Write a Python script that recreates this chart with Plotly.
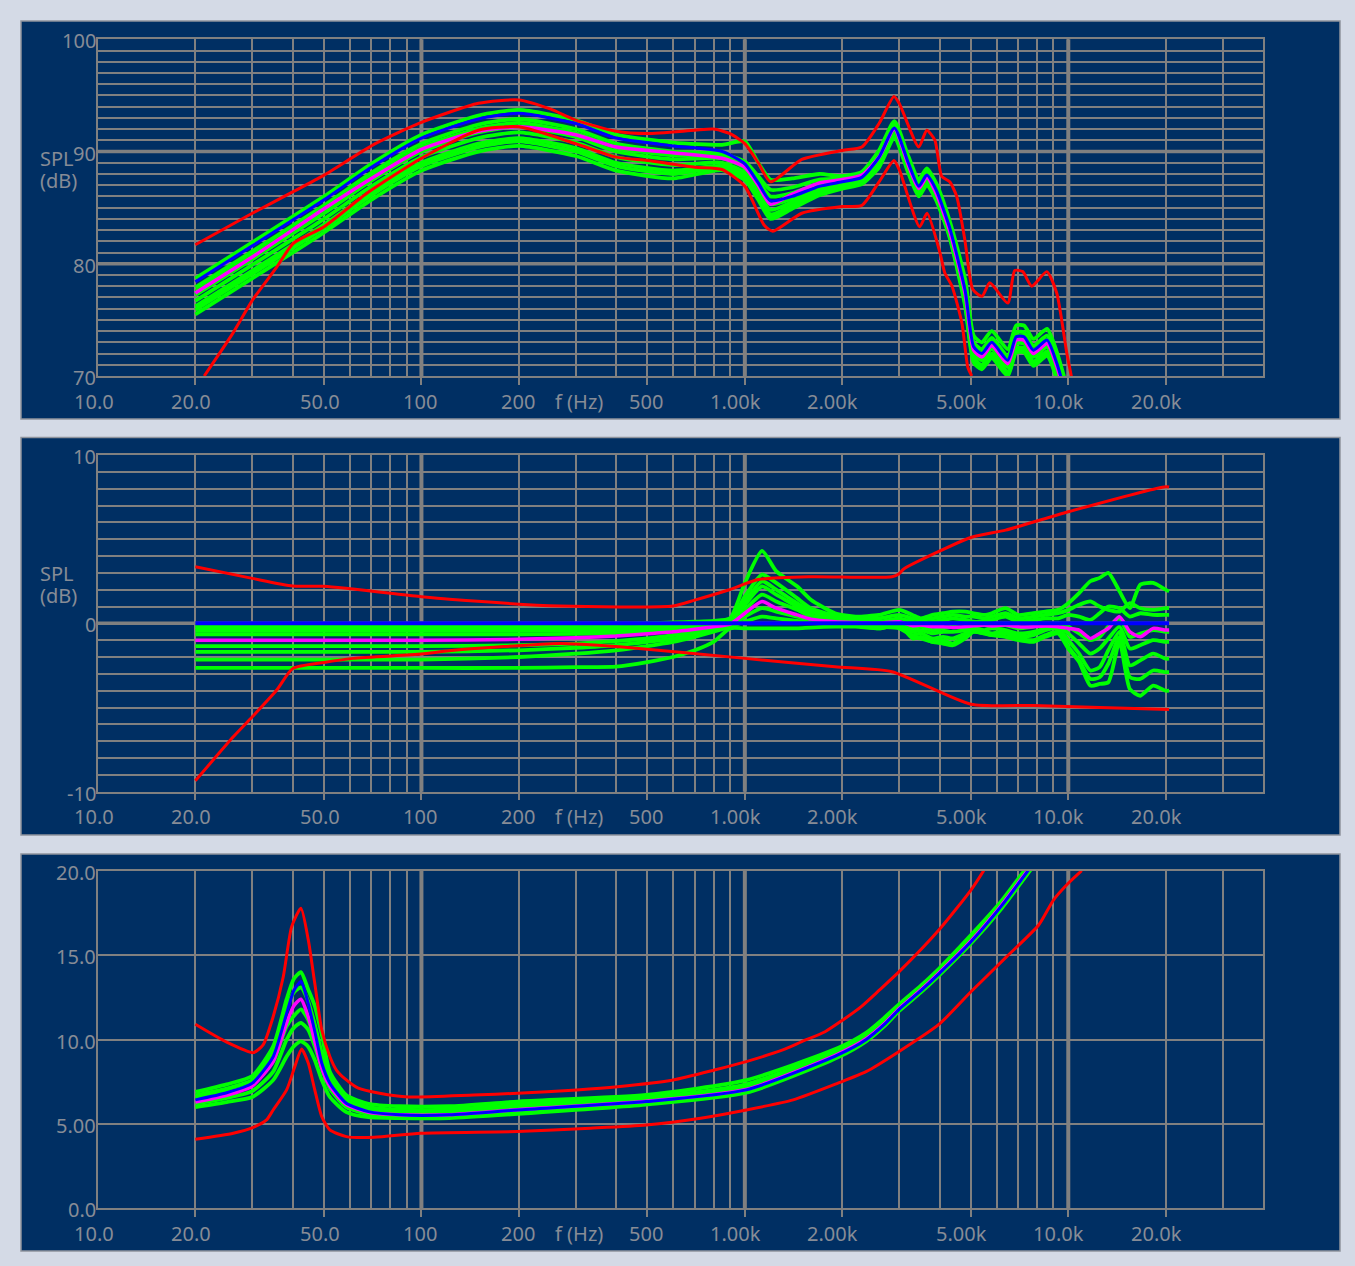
import math
import plotly.graph_objects as go

# ---------------- SPL response (dB) ----------------
F_SPL = [20, 30, 50, 70, 100, 150, 200, 300, 400, 600, 850, 1000, 1100, 1200, 1400, 1700,
         2000, 2300, 2600, 2900, 3200, 3450, 3650, 3900, 4300, 4800, 5100, 5400, 5800, 6500,
         6900, 7300, 7800, 8600, 9200, 9800]
SPL_REF = [78.4, 81.6, 85.7, 88.6, 91.2, 92.9, 93.4, 92.5, 91.2, 90.5, 90.0, 88.9, 87.2, 85.6, 86.0, 86.9,
           87.3, 87.7, 89.5, 92.1, 89.0, 86.9, 87.9, 86.6, 83.2, 77.6, 72.6, 72.0, 73.0, 71.4,
           73.5, 73.5, 72.3, 73.2, 71.2, 68.5]
SPL_MEAN = [77.4, 80.6, 84.9, 87.6, 90.2, 91.8, 92.2, 91.5, 90.4, 89.9, 89.4, 88.6, 87.0, 85.3, 86.2, 87.2,
            87.5, 87.9, 89.5, 92.0, 88.8, 86.7, 87.7, 86.3, 82.9, 77.3, 72.3, 71.7, 72.7, 71.1,
            73.2, 73.2, 72.0, 72.9, 70.9, 68.2]
SPL_S1 = [78.7, 81.9, 86.0, 88.9, 91.5, 93.2, 93.7, 92.8, 91.5, 90.8, 90.6, 90.9, 89.0, 87.5, 87.6, 88.0,
          87.8, 88.2, 90.1, 92.7, 89.6, 87.5, 88.5, 87.2, 83.8, 78.6, 73.6, 73.0, 74.0, 72.4,
          74.5, 74.5, 73.3, 74.2, 72.2, 69.5]
SPL_S2 = [77.9, 81.1, 85.2, 88.1, 90.7, 92.4, 92.9, 92.0, 90.7, 90.0, 89.8, 89.1, 87.8, 86.6, 86.8, 87.5,
          87.6, 88.0, 89.8, 92.4, 89.3, 87.2, 88.2, 86.9, 83.5, 78.0, 73.0, 72.4, 73.4, 71.8,
          73.9, 73.9, 72.7, 73.6, 71.6, 68.9]
SPL_S3 = [77.2, 80.4, 84.5, 87.4, 90.0, 91.7, 92.2, 91.3, 90.0, 89.3, 89.4, 88.5, 86.9, 85.3, 85.8, 86.8,
          87.2, 87.6, 89.3, 91.9, 88.8, 86.7, 87.7, 86.4, 83.0, 77.3, 72.3, 71.7, 72.7, 71.1,
          73.2, 73.2, 72.0, 72.9, 70.9, 68.2]
SPL_S4 = [76.2, 79.4, 83.5, 86.4, 89.0, 90.7, 91.2, 90.3, 89.0, 88.3, 88.7, 87.8, 86.2, 84.4, 85.2, 86.4,
          86.9, 87.3, 88.9, 91.5, 88.4, 86.3, 87.3, 86.0, 82.6, 76.6, 71.6, 71.0, 72.0, 70.4,
          72.5, 72.5, 71.3, 72.2, 70.2, 67.5]
SPL_S5 = [75.5, 78.7, 82.8, 85.7, 88.3, 90.0, 90.5, 89.6, 88.3, 87.6, 88.35, 87.45, 85.7, 84.0, 84.9, 86.1,
          86.7, 87.1, 88.6, 91.2, 88.1, 86.0, 87.0, 85.7, 82.3, 76.2, 71.2, 70.6, 71.6, 70.0,
          72.1, 72.1, 70.9, 71.8, 69.8, 67.1]
SPL_S6 = [76.7, 79.9, 84.0, 86.9, 89.5, 91.2, 91.7, 90.8, 89.5, 88.8, 89.0, 88.1, 86.5, 84.8, 85.5, 86.6,
          87.1, 87.5, 89.1, 91.7, 88.6, 86.5, 87.5, 86.2, 82.8, 77.0, 72.0, 71.4, 72.4, 70.8,
          72.9, 72.9, 71.7, 72.6, 70.6, 67.9]
SPL_S7 = [75.9, 79.1, 83.2, 86.1, 88.7, 90.4, 90.9, 90.0, 88.7, 88.0, 88.55, 87.6, 85.9, 84.2, 85.0, 86.2,
          86.8, 87.2, 88.75, 91.35, 88.25, 86.15, 87.15, 85.85, 82.45, 76.4, 71.4, 70.8, 71.8, 70.2,
          72.3, 72.3, 71.1, 72.0, 70.0, 67.3]
SPL_S8 = [77.55, 80.75, 84.85, 87.75, 90.35, 92.05, 92.55, 91.65, 90.35, 89.65, 89.6, 88.8, 87.4, 86.0, 86.3, 87.15,
          87.4, 87.8, 89.55, 92.15, 89.05, 86.95, 87.95, 86.65, 83.25, 77.65, 72.65, 72.05, 73.05, 71.45,
          73.55, 73.55, 72.35, 73.25, 71.25, 68.55]
F_SPL_HI = [20, 30, 40, 50, 72, 100, 150, 200, 250, 300, 400, 500, 700, 800, 900, 1000, 1100, 1200,
            1500, 2000, 2300, 2600, 2890, 3000, 3450, 3650, 3870, 4060, 4300, 4520, 4790, 5070,
            5410, 5720, 6500, 6830, 7230, 7710, 8580, 9210, 9900, 10250]
SPL_HI = [81.7, 84.5, 86.4, 87.9, 90.7, 92.6, 94.3, 94.6, 93.8, 92.8, 91.8, 91.6, 91.9, 92.0, 91.6, 90.7, 89.0, 87.3,
          89.3, 90.1, 90.4, 92.5, 94.9, 94.3, 90.4, 91.9, 91.0, 87.8, 87.3, 86.0, 82.1, 77.7,
          77.1, 78.3, 76.5, 79.4, 79.3, 78.0, 79.3, 77.4, 72.0, 69.8]
F_SPL_LO = [21.3, 26.1, 30.1, 35.7, 40.1, 50, 68, 100, 150, 200, 300, 400, 500, 700, 850, 1000, 1150,
            1220, 1500, 2000, 2300, 2600, 2890, 3000, 3470, 3660, 4010, 4150, 4370, 4690, 4890, 5030]
SPL_LO = [70.0, 73.8, 76.8, 79.7, 81.8, 83.3, 86.3, 89.4, 91.9, 92.2, 90.7, 89.5, 89.2, 88.6, 88.4, 86.9, 83.4,
          82.9, 84.5, 85.1, 85.2, 87.3, 89.2, 88.4, 83.3, 84.5, 81.0, 79.2, 78.0, 74.7, 70.8, 70.0]

# ---------------- SPL deviation from reference (dB) ----------------
F_DEV = [20, 100, 200, 300, 400, 500, 600, 700, 800, 900, 1000, 1130, 1250, 1450, 1600, 1900, 2200,
         2600, 3000, 3300, 3500, 3800, 4100, 4400, 4800, 5100, 5500, 5800, 6400, 7000, 7800, 8500,
         9300, 10000, 10800, 11700, 12500, 13300, 14400, 15500, 16700, 18300, 20000, 20500]
F_DEV_REF = [20, 20500]
DEV_REF = [0.0, 0.0]
DEV_MEAN = [-1.0, -1.0, -0.95, -0.85, -0.75, -0.62, -0.5, -0.35, -0.2, -0.05, 0.6, 1.3, 0.9, 0.5, 0.25, 0.1, 0.05,
            0.0, 0.1, -0.15, -0.1, -0.2, -0.2, -0.25, -0.2, -0.15, -0.1, -0.15, -0.1, -0.2, -0.2, -0.15,
            -0.2, -0.3, -0.4, -0.9, -0.6, -0.3, 0.4, -0.5, -0.8, -0.3, -0.4, -0.4]
DEV_S1 = [-0.15, -0.15, -0.15, -0.1, -0.05, 0.0, 0.05, 0.1, 0.15, 0.3, 2.4, 4.3, 3.1, 2.2, 1.4, 0.6, 0.4,
          0.5, 0.8, 0.5, 0.3, 0.5, 0.6, 0.7, 0.7, 0.6, 0.5, 0.6, 0.9, 0.5, 0.6, 0.7,
          0.8, 1.2, 1.8, 2.5, 2.7, 3.0, 1.9, 0.9, 2.3, 2.4, 2.0, 1.9]
DEV_S2 = [-0.3, -0.3, -0.3, -0.28, -0.25, -0.2, -0.15, -0.1, -0.05, 0.1, 1.6, 2.9, 2.4, 1.5, 0.9, 0.45, 0.3,
          0.3, 0.5, 0.3, 0.2, 0.3, 0.4, 0.5, 0.4, 0.4, 0.3, 0.4, 0.6, 0.3, 0.4, 0.5,
          0.6, 0.8, 1.1, 1.3, 1.0, 0.8, 0.7, 1.2, 0.9, 0.8, 0.9, 0.9]
DEV_S3 = [-0.45, -0.45, -0.45, -0.42, -0.4, -0.35, -0.3, -0.2, -0.1, 0.05, 1.3, 2.5, 2.0, 1.2, 0.7, 0.3, 0.2,
          0.1, 0.3, 0.1, 0.0, 0.1, 0.2, 0.3, 0.2, 0.1, 0.1, 0.2, 0.4, 0.1, 0.2, 0.3,
          0.3, 0.5, 0.4, 0.2, 0.6, 1.0, 0.9, 0.4, 0.6, 0.5, 0.5, 0.5]
DEV_S4 = [-0.65, -0.65, -0.65, -0.62, -0.58, -0.5, -0.4, -0.3, -0.15, 0.0, 1.1, 2.2, 1.7, 1.0, 0.5, 0.2, 0.1,
          0.0, -0.1, -0.3, -0.2, -0.4, -0.3, -0.2, -0.3, -0.2, -0.1, -0.2, -0.1, -0.3, -0.2, -0.1,
          0.0, -0.2, -0.6, -1.0, -0.8, -0.2, 0.3, -0.8, -0.6, -0.4, -0.5, -0.5]
DEV_S5 = [-1.35, -1.35, -1.3, -1.2, -1.05, -0.9, -0.7, -0.5, -0.3, -0.1, 0.8, 1.7, 1.3, 0.8, 0.4, 0.15, 0.05,
          -0.1, -0.2, -0.5, -0.4, -0.6, -0.5, -0.5, -0.4, -0.3, -0.4, -0.3, -0.4, -0.6, -0.5, -0.3,
          -0.2, -0.6, -1.2, -1.8, -1.5, -0.9, -0.2, -1.5, -1.3, -1.0, -1.1, -1.1]
DEV_S6 = [-1.7, -1.7, -1.6, -1.45, -1.3, -1.1, -0.9, -0.65, -0.4, -0.15, 0.4, 0.9, 0.7, 0.4, 0.2, 0.05, 0.0,
          -0.2, -0.3, -0.7, -0.6, -0.9, -0.8, -0.9, -0.6, -0.4, -0.5, -0.6, -0.5, -0.8, -0.7, -0.4,
          -0.3, -1.0, -1.8, -2.8, -2.6, -1.6, -0.5, -2.5, -2.2, -1.8, -2.1, -2.1]
DEV_S7 = [-2.15, -2.15, -2.0, -1.8, -1.6, -1.35, -1.1, -0.8, -0.5, -0.2, 0.1, 0.4, 0.3, 0.15, 0.05, -0.05, -0.1,
          -0.3, -0.1, -0.9, -0.8, -1.1, -1.0, -1.2, -0.7, -0.5, -0.6, -0.7, -0.6, -0.9, -1.0, -0.7,
          -0.5, -1.4, -2.2, -3.3, -3.2, -2.4, -0.8, -3.2, -3.3, -2.8, -2.9, -2.9]
DEV_S8 = [-2.65, -2.65, -2.65, -2.6, -2.57, -2.3, -2.0, -1.6, -1.1, -0.3, -0.3, -0.3, -0.3, -0.3, -0.25, -0.2, -0.2,
          -0.3, -0.1, -0.8, -0.9, -1.1, -1.2, -1.3, -0.9, -0.5, -0.6, -0.7, -0.8, -1.0, -1.1, -0.8,
          -0.6, -1.5, -2.3, -3.7, -3.6, -3.5, -1.1, -3.9, -4.3, -3.7, -4.0, -4.0]
F_DEV_HI = [20, 30, 40, 50, 100, 122, 268, 600, 700, 890, 1100, 1600, 2850, 3000, 3100, 5000, 6400,
            10000, 20000, 20500]
DEV_HI = [3.36, 2.67, 2.22, 2.2, 1.58, 1.43, 1.03, 1.03, 1.38, 1.98, 2.6, 2.77, 2.77, 2.95, 3.23, 5.1, 5.54,
          6.63, 8.12, 8.1]
F_DEV_LO = [20, 26.2, 30, 35.7, 40, 50, 61.5, 100, 122, 268, 410, 1000, 1900, 2850, 5000, 7800, 12500, 20500]
DEV_LO = [-9.35, -6.74, -5.55, -3.96, -2.68, -2.32, -2.08, -1.82, -1.63, -1.19, -1.39, -2.08, -2.58, -2.87,
          -4.8, -4.88, -5.0, -5.12]

# ---------------- impedance (ohm) ----------------
F_IMP = [20, 25, 30, 34.8, 38.3, 40.3, 42.4, 44.6, 46.8, 49.2, 52.1, 58.6, 68.6, 85.5, 122, 198, 495,
         1010, 1940, 2370, 2700, 3000, 3500, 3980, 5000, 6200, 7300, 7700]
IMP_REF = [6.43, 6.85, 7.42, 8.99, 11.56, 12.9, 13.45, 12.2, 10.5, 8.6, 7.42, 6.23, 5.73, 5.54, 5.54, 5.83, 6.33,
           7.02, 9.1, 10.0, 10.9, 11.8, 12.9, 13.9, 15.8, 17.9, 19.7, 20.3]
IMP_MEAN = [6.3, 6.7, 7.25, 8.7, 11.0, 12.0, 12.4, 11.4, 9.9, 8.3, 7.25, 6.15, 5.7, 5.55, 5.55, 5.85, 6.35,
            7.05, 9.15, 10.05, 10.95, 11.85, 12.95, 13.95, 15.85, 17.95, 19.75, 20.35]
IMP_S1 = [6.9, 7.35, 7.85, 9.6, 12.4, 13.6, 14.0, 13.0, 12.0, 10.3, 8.1, 6.7, 6.2, 6.05, 6.05, 6.33, 6.72,
          7.6, 9.5, 10.4, 11.3, 12.1, 13.2, 14.2, 16.2, 18.2, 20.0, 20.6]
IMP_S2 = [6.7, 7.1, 7.6, 9.2, 11.9, 12.8, 13.1, 12.3, 10.9, 9.2, 7.8, 6.5, 6.0, 5.85, 5.85, 6.15, 6.55,
          7.35, 9.35, 10.25, 11.15, 12.0, 13.1, 14.1, 16.0, 18.05, 19.9, 20.5]
IMP_S3 = [6.5, 6.9, 7.35, 8.7, 10.8, 11.4, 11.8, 11.2, 10.0, 8.6, 7.4, 6.3, 5.85, 5.7, 5.7, 6.0, 6.45,
          7.2, 9.25, 10.15, 11.05, 11.95, 13.05, 14.0, 15.9, 17.95, 19.8, 20.4]
IMP_S4 = [6.2, 6.55, 6.95, 8.1, 10.0, 10.7, 11.0, 10.6, 9.6, 8.3, 7.1, 6.0, 5.6, 5.45, 5.45, 5.75, 6.25,
          6.95, 9.0, 9.95, 10.85, 11.75, 12.85, 13.85, 15.75, 17.8, 19.6, 20.2]
IMP_S5 = [6.0, 6.3, 6.6, 7.6, 9.0, 9.6, 9.9, 9.6, 8.8, 7.6, 6.6, 5.7, 5.4, 5.35, 5.35, 5.6, 6.15,
          6.85, 8.95, 9.9, 10.8, 11.7, 12.8, 13.8, 15.7, 17.75, 19.55, 20.15]
F_IMP_HI = [20, 25, 30.2, 32.4, 34.8, 37.4, 39.7, 42.4, 44.7, 46.8, 49.2, 52.1, 54.6, 58.6, 63.8, 74.2, 91,
            145, 198, 302, 404, 600, 805, 1010, 1310, 1500, 1770, 2010, 2290, 2610, 3000, 3980, 5000,
            5450, 5700]
IMP_HI = [10.91, 9.85, 9.23, 9.69, 11.36, 13.73, 16.7, 17.79, 15.9, 13.34, 10.57, 9.0, 8.2, 7.61, 7.12, 6.82, 6.6,
          6.72, 6.82, 7.02, 7.21, 7.61, 8.2, 8.7, 9.39, 9.88, 10.47, 11.17, 11.96, 12.95, 14.03, 16.5, 18.87,
          19.96, 20.6]
F_IMP_LO = [20, 26.2, 30.2, 33.2, 34.8, 38.3, 40.6, 42.6, 44.7, 46.8, 49.2, 52.1, 58.6, 71.5, 99.5, 198,
            333, 495, 730, 1010, 1410, 1940, 2370, 3000, 3980, 5000, 6450, 8100, 9000, 10000, 11000]
IMP_LO = [4.09, 4.45, 4.8, 5.24, 5.83, 7.02, 8.4, 9.45, 8.6, 7.02, 5.43, 4.65, 4.25, 4.21, 4.45, 4.55,
          4.75, 4.94, 5.34, 5.83, 6.43, 7.42, 8.1, 9.3, 10.9, 12.84, 14.92, 16.8, 18.28, 19.27, 20.02]

# ---------------- axis ticks and labels ----------------
X_LABEL_VALS = [10, 20, 50, 100, 200, 500, 1000, 2000, 5000, 10000, 20000]
X_LABEL_TEXT = ["10.0", "20.0", "50.0", "100", "200", "500", "1.00k", "2.00k", "5.00k", "10.0k", "20.0k"]
X_MAJOR = [20, 50, 100, 200, 500, 1000, 2000, 5000, 10000, 20000]
X_MINOR = [30, 40, 60, 70, 80, 90, 300, 400, 600, 700, 800, 900,
           3000, 4000, 6000, 7000, 8000, 9000, 30000]
X_DECADES = [100, 1000, 10000]

Y1_LABEL_VALS, Y1_LABEL_TEXT = [70, 80, 90, 100], ["70", "80", "90", "100"]
Y2_LABEL_VALS, Y2_LABEL_TEXT = [-10, 0, 10], ["-10", "0", "10"]
Y3_LABEL_VALS, Y3_LABEL_TEXT = [0, 5, 10, 15, 20], ["0.0", "5.00", "10.0", "15.0", "20.0"]

# ---------------- styling ----------------
W, H = 1355, 1266
NAVY = "#002f63"
GRID = "#808080"
TEXT = "#878c96"
PAGE = "#d4dae6"
FRAME = "#8f949d"
GREEN, MAGENTA, BLUE, RED = "#00ff00", "#ff00ff", "#0000ff", "#ff0000"
FONT = dict(family="Noto Sans, DejaVu Sans, sans-serif", size=20, color=TEXT)

PLOT_LEFT, PLOT_RIGHT = 98, 1263
# pixel rows: grid top, grid bottom, frame top, frame bottom
PANEL_ROWS = [(39.3, 376.0, 21, 419), (455.0, 791.7, 437.5, 835), (871.0, 1208.3, 854, 1251)]


def px_x(p):
    return p / W


def px_y(p):
    return 1 - p / H


panels = [
    dict(f=F_SPL, samples=[SPL_S1, SPL_S2, SPL_S8, SPL_S3, SPL_S6, SPL_S4, SPL_S7, SPL_S5],
         f_mean=F_SPL, mean=SPL_MEAN, f_ref=F_SPL, ref=SPL_REF, ref_w=3,
         f_hi=F_SPL_HI, hi=SPL_HI, f_lo=F_SPL_LO, lo=SPL_LO,
         yrange=[70, 100], ymajor=[70, 75, 80, 85, 90, 95, 100], yminor=1, ythick=[80, 90],
         ylab=(Y1_LABEL_VALS, Y1_LABEL_TEXT), spl=(158.3, 180.0)),
    dict(f=F_DEV, samples=[DEV_S1, DEV_S2, DEV_S3, DEV_S4, DEV_S5, DEV_S6, DEV_S7, DEV_S8],
         f_mean=F_DEV, mean=DEV_MEAN, f_ref=F_DEV_REF, ref=DEV_REF, ref_w=4,
         f_hi=F_DEV_HI, hi=DEV_HI, f_lo=F_DEV_LO, lo=DEV_LO,
         yrange=[-10, 10], ymajor=[-10, -5, 0, 5, 10], yminor=1, ythick=[0],
         ylab=(Y2_LABEL_VALS, Y2_LABEL_TEXT), spl=(573.3, 595.0)),
    dict(f=F_IMP, samples=[IMP_S1, IMP_S2, IMP_S3, IMP_S4, IMP_S5],
         f_mean=F_IMP, mean=IMP_MEAN, f_ref=F_IMP, ref=IMP_REF, ref_w=3,
         f_hi=F_IMP_HI, hi=IMP_HI, f_lo=F_IMP_LO, lo=IMP_LO,
         yrange=[0, 20], ymajor=[0, 5, 10, 15, 20], yminor=None, ythick=[],
         ylab=(Y3_LABEL_VALS, Y3_LABEL_TEXT), spl=None),
]

fig = go.Figure()
frames, grid_shapes, annotations, axes = [], [], [], {}

for i, p in enumerate(panels):
    n = i + 1
    xa = "x" if n == 1 else f"x{n}"
    ya = "y" if n == 1 else f"y{n}"
    gtop, gbot, ftop, fbot = PANEL_ROWS[i]

    def line(x, y, color, width):
        fig.add_trace(go.Scatter(x=x, y=y, mode="lines", xaxis=xa, yaxis=ya, hoverinfo="skip",
                                 showlegend=False,
                                 line=dict(color=color, width=width, shape="spline", smoothing=0.6)))

    for s in p["samples"]:
        line(p["f"], s, GREEN, 3.8)
    line(p["f_mean"], p["mean"], MAGENTA, 3.5)
    line(p["f_ref"], p["ref"], BLUE, p["ref_w"])
    line(p["f_hi"], p["hi"], RED, 3)
    line(p["f_lo"], p["lo"], RED, 3)

    axes["xaxis" if n == 1 else f"xaxis{n}"] = dict(
        type="log", range=[1, math.log10(40000)], domain=[px_x(PLOT_LEFT), px_x(PLOT_RIGHT)],
        anchor=ya, tickvals=X_MAJOR, ticks="outside", ticklen=7, tickwidth=2, tickcolor=GRID,
        showticklabels=False, showgrid=True, gridcolor=GRID, gridwidth=2,
        minor=dict(tickvals=X_MINOR, showgrid=True, gridcolor=GRID, gridwidth=1.5, ticks=""),
        showline=True, linecolor=GRID, linewidth=1.5, mirror=True, zeroline=False, fixedrange=True)
    yax = dict(
        range=p["yrange"], domain=[px_y(gbot), px_y(gtop)], anchor=xa,
        tickvals=p["ymajor"], ticks="", showticklabels=False, showgrid=True, gridcolor=GRID,
        gridwidth=2, showline=True, linecolor=GRID, linewidth=1.5, mirror=True,
        zeroline=False, fixedrange=True)
    if p["yminor"]:
        yax["minor"] = dict(dtick=p["yminor"], showgrid=True, gridcolor=GRID, gridwidth=1.5, ticks="")
    axes["yaxis" if n == 1 else f"yaxis{n}"] = yax

    # panel frame
    frames.append(dict(type="rect", xref="paper", yref="paper", layer="below",
                       x0=px_x(21), x1=px_x(1340), y0=px_y(fbot), y1=px_y(ftop),
                       fillcolor=NAVY, line=dict(color=FRAME, width=1.5)))
    # heavier decade / major level lines (under the traces)
    for v in X_DECADES:
        grid_shapes.append(dict(type="line", xref=xa, yref=f"{ya} domain", layer="below",
                                x0=v, x1=v, y0=0, y1=1, line=dict(color=GRID, width=4)))
    for v in p["ythick"]:
        grid_shapes.append(dict(type="line", xref=f"{xa} domain", yref=ya, layer="below",
                                x0=0, x1=1, y0=v, y1=v, line=dict(color=GRID, width=3.5)))

    # frequency labels
    for v, t in zip(X_LABEL_VALS, X_LABEL_TEXT):
        annotations.append(dict(x=math.log10(v), xref=xa, y=0, yref=f"{ya} domain",
                                text=t, showarrow=False, xanchor="right", yanchor="middle",
                                xshift=18, yshift=-25, font=FONT))
    annotations.append(dict(x=px_x(579), xref="paper", y=0, yref=f"{ya} domain", text="f (Hz)",
                            showarrow=False, xanchor="center", yanchor="middle", yshift=-25, font=FONT))
    # level labels
    for v, t in zip(*p["ylab"]):
        annotations.append(dict(x=px_x(98), xref="paper", y=v, yref=ya, text=t, showarrow=False,
                                xanchor="right", yanchor="middle", yshift=-1.5, font=FONT))
    if p["spl"]:
        for txt, row in zip(["SPL", "(dB)"], p["spl"]):
            annotations.append(dict(x=px_x(38), xref="paper", y=px_y(row), yref="paper", text=txt,
                                    showarrow=False, xanchor="left", yanchor="middle", font=FONT))

fig.update_layout(
    width=W, height=H, autosize=False, margin=dict(l=0, r=0, t=0, b=0),
    paper_bgcolor=PAGE, plot_bgcolor=NAVY, showlegend=False, hovermode=False,
    shapes=frames + grid_shapes, annotations=annotations, **axes)

fig.write_html("out.html", config={"displayModeBar": False})
